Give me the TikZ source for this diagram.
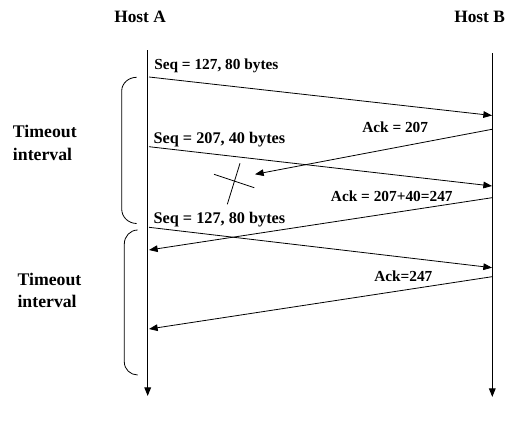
\documentclass[tikz,border=0pt]{standalone}
\usepackage{fontspec}
\setmainfont{Liberation Serif}
\usetikzlibrary{arrows.meta}
\begin{document}
\begin{tikzpicture}[x=0.75pt,y=-0.75pt,
  line/.style={line width=0.8pt},
  msg/.style={line width=0.6pt,-{Triangle[length=6.5pt,width=5pt]}},
  lbl/.style={anchor=base west,inner sep=0pt,font=\fontsize{11.5}{13}\selectfont\bfseries},
  biglbl/.style={lbl,font=\fontsize{12.2}{14}\selectfont\bfseries},
  host/.style={anchor=base west,inner sep=0pt,font=\fontsize{13}{15}\selectfont\bfseries},
  tmo/.style={anchor=base west,inner sep=0pt,font=\fontsize{13.3}{16}\selectfont\bfseries},
  brace/.style={line width=0.6pt}]
\useasboundingbox (0,0) rectangle (522,421);
\fill[white] (0,0) rectangle (522,421);
% hosts
\node[host] (hA) at (114,22.7) {Host A};
\node[host] (hB) at (454,22.7) {Host B};
\coordinate (a0) at (147.7,50);
\coordinate (a1) at (147.7,396);
\coordinate (b0) at (492.3,53);
\coordinate (b1) at (492.3,397);
\draw[line,-{Triangle[length=6.5pt,width=5pt]}] (a0) -- (a1);
\draw[line,-{Triangle[length=6.5pt,width=5pt]}] (b0) -- (b1);
% message endpoints
\coordinate (m1s) at (149,77);
\coordinate (m1e) at (492,115.5);
\coordinate (m2s) at (492,129.3);
\coordinate (m2e) at (255,174.3);
\coordinate (m3s) at (149,146.7);
\coordinate (m3e) at (492,186);
\coordinate (m4s) at (492,197.7);
\coordinate (m4e) at (149,250);
\coordinate (m5s) at (149,227.3);
\coordinate (m5e) at (492,267.7);
\coordinate (m6s) at (492,276.7);
\coordinate (m6e) at (149,329);
\draw[msg] (m1s) -- (m1e);
\draw[msg] (m2s) -- (m2e);
\draw[msg] (m3s) -- (m3e);
\draw[msg] (m4s) -- (m4e);
\draw[msg] (m5s) -- (m5e);
\draw[msg] (m6s) -- (m6e);
% labels
\node[lbl] (l1) at (154,69.5) {Seq = 127, 80 bytes};
\node[lbl] (l2) at (362,132.7) {Ack = 207};
\node[biglbl] (l3) at (153.3,143.3) {Seq = 207, 40 bytes};
\node[lbl] (l4) at (330.7,201.7) {Ack = 207+40=247};
\node[biglbl] (l5) at (153.3,223.3) {Seq = 127, 80 bytes};
\node[lbl] (l6) at (374,281.7) {Ack=247};
% loss mark
\coordinate (x1) at (214,174.3);
\coordinate (x2) at (254.3,187.7);
\coordinate (x3) at (240,163.3);
\coordinate (x4) at (227.3,204.3);
\draw[line width=0.6pt] (x1) -- (x2);
\draw[line width=0.6pt] (x3) -- (x4);
% braces
\coordinate (br1t) at (136.7,77.3);
\coordinate (br1b) at (136.7,223.5);
\coordinate (br2t) at (137.7,230);
\coordinate (br2b) at (137.7,375);
\draw[brace] (br1t) to[out=180,in=90] (121.7,91) -- (121.7,209) to[out=-90,in=180] (br1b);
\draw[brace] (br2t) to[out=180,in=90] (124.3,244) -- (124.3,362) to[out=-90,in=180] (br2b);
% timeout labels
\node[tmo] (t1a) at (12.7,137.7) {Timeout};
\node[tmo] (t1b) at (12.7,160) {interval};
\node[tmo] (t2a) at (17.3,285) {Timeout};
\node[tmo] (t2b) at (17.3,307) {interval};
\end{tikzpicture}
\end{document}
